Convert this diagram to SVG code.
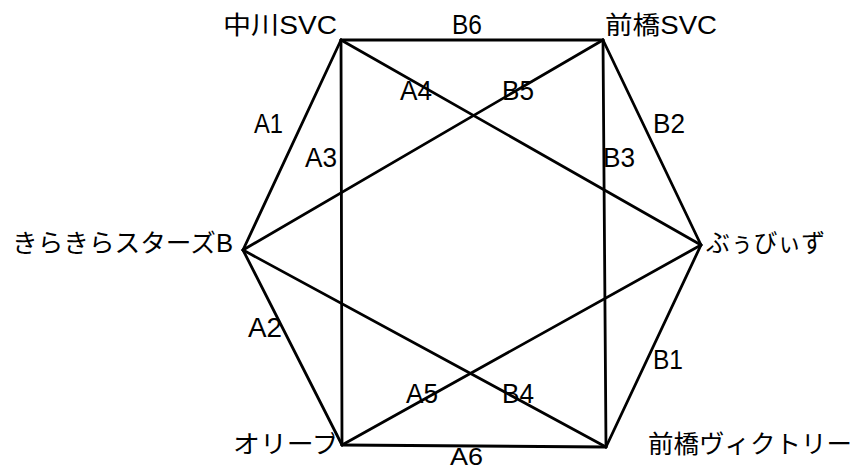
<svg xmlns="http://www.w3.org/2000/svg" width="853" height="471" viewBox="0 0 853 471">
<style>
text{font-family:"Liberation Sans","Noto Sans CJK JP",sans-serif;fill:#000}
.n{font-size:25px}
.e{font-size:27px}
#edges line{stroke:#000;stroke-width:2.8;stroke-linecap:round}
</style>
<rect width="853" height="471" fill="#fff"/>
<g id="edges">
<line x1="341" y1="40" x2="243" y2="250"/>
<line x1="243" y1="250" x2="342" y2="445"/>
<line x1="341" y1="40" x2="342" y2="445"/>
<line x1="341" y1="40" x2="701" y2="245"/>
<line x1="342" y1="445" x2="701" y2="245"/>
<line x1="342" y1="445" x2="606" y2="447"/>
<line x1="701" y1="245" x2="606" y2="447"/>
<line x1="603" y1="40" x2="701" y2="245"/>
<line x1="603" y1="40" x2="606" y2="447"/>
<line x1="243" y1="250" x2="606" y2="447"/>
<line x1="603" y1="40" x2="243" y2="250"/>
<line x1="341" y1="40" x2="603" y2="40"/>
</g>
<g id="edge-labels" class="e">
<text x="254" y="133" textLength="29" lengthAdjust="spacingAndGlyphs">A1</text>
<text x="248" y="337" textLength="34" lengthAdjust="spacingAndGlyphs">A2</text>
<text x="305" y="167" textLength="32" lengthAdjust="spacingAndGlyphs">A3</text>
<text x="400" y="100" textLength="32" lengthAdjust="spacingAndGlyphs">A4</text>
<text x="406" y="403" textLength="32" lengthAdjust="spacingAndGlyphs">A5</text>
<text x="450" y="465" font-size="23" textLength="33" lengthAdjust="spacingAndGlyphs">A6</text>
<text x="653" y="369" textLength="30" lengthAdjust="spacingAndGlyphs">B1</text>
<text x="653" y="133" textLength="32" lengthAdjust="spacingAndGlyphs">B2</text>
<text x="603" y="167" textLength="32" lengthAdjust="spacingAndGlyphs">B3</text>
<text x="502" y="403" textLength="32" lengthAdjust="spacingAndGlyphs">B4</text>
<text x="502" y="100" textLength="32" lengthAdjust="spacingAndGlyphs">B5</text>
<text x="452" y="34" textLength="30" lengthAdjust="spacingAndGlyphs">B6</text>
</g>
<g id="node-nakagawa"><text class="n" x="223" y="34" textLength="114" lengthAdjust="spacingAndGlyphs">中川SVC</text></g>
<g id="node-maebashi-svc"><text class="n" x="605" y="34" textLength="112" lengthAdjust="spacingAndGlyphs">前橋SVC</text></g>
<g id="node-kirakira"><text class="n" x="12" y="252" textLength="221" lengthAdjust="spacingAndGlyphs">きらきらスターズB</text></g>
<g id="node-boobies"><text class="n" x="706" y="252" textLength="119" lengthAdjust="spacingAndGlyphs">ぶぅびぃず</text></g>
<g id="node-olive"><text class="n" x="233" y="453" textLength="106" lengthAdjust="spacingAndGlyphs">オリーブ</text></g>
<g id="node-maebashi-victory"><text class="n" x="648" y="453" textLength="204" lengthAdjust="spacingAndGlyphs">前橋ヴィクトリー</text></g>
</svg>
